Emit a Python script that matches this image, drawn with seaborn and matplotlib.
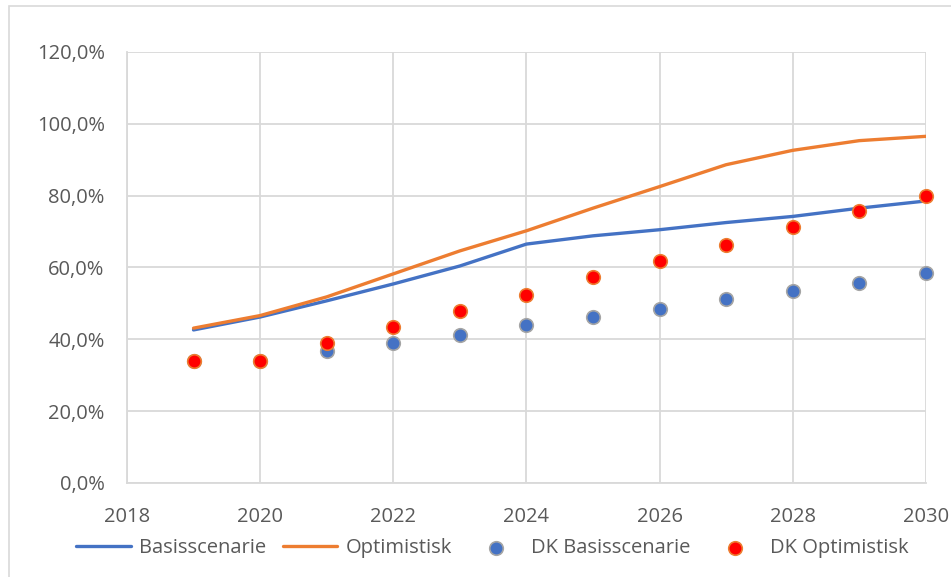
import matplotlib
matplotlib.use("Agg")
import matplotlib.pyplot as plt
import seaborn as sns
import numpy as np
from matplotlib.patches import Rectangle
from matplotlib.ticker import FuncFormatter

years = [2019, 2020, 2021, 2022, 2023, 2024, 2025, 2026, 2027, 2028, 2029, 2030]
basis = [0.426, 0.462, 0.507, 0.554, 0.604, 0.665, 0.688, 0.705, 0.725, 0.742, 0.765, 0.785]
optimistisk = [0.431, 0.466, 0.518, 0.582, 0.646, 0.702, 0.765, 0.825, 0.886, 0.926, 0.953, 0.965]
dk_basis = [0.340, 0.340, 0.366, 0.389, 0.412, 0.439, 0.462, 0.484, 0.512, 0.534, 0.557, 0.584]
dk_opt = [0.340, 0.340, 0.389, 0.434, 0.479, 0.524, 0.573, 0.618, 0.662, 0.712, 0.757, 0.800]
xticks = [2018, 2020, 2022, 2024, 2026, 2028, 2030]
yticks = [0.0, 0.2, 0.4, 0.6, 0.8, 1.0, 1.2]

sns.set_theme(style="white")
plt.rcParams['font.family'] = ['Open Sans', 'DejaVu Sans']

fig = plt.figure(figsize=(9.51, 5.77), dpi=100)
ax = fig.add_axes([0.1335, 0.163, 0.840, 0.747])

blue = "#4472C4"
orange = "#ED7D31"

sns.lineplot(x=years, y=basis, ax=ax, color=blue, linewidth=2.4, label="Basisscenarie", zorder=3)
sns.lineplot(x=years, y=optimistisk, ax=ax, color=orange, linewidth=2.4, label="Optimistisk", zorder=3)
sns.scatterplot(x=years, y=dk_basis, ax=ax, color=blue, edgecolor="#A5A5A5", linewidth=1.2, s=95,
                label="DK Basisscenarie", zorder=4, clip_on=False)
sns.scatterplot(x=years, y=dk_opt, ax=ax, color="#FF0000", edgecolor=orange, linewidth=1.2, s=95,
                label="DK Optimistisk", zorder=5, clip_on=False)

ax.set_xlim(2018, 2030)
ax.set_ylim(0, 1.2)
ax.set_xticks(xticks)
ax.set_yticks(yticks)
ax.yaxis.set_major_formatter(FuncFormatter(lambda v, p: f"{v*100:.1f}%".replace(".", ",")))
ax.grid(True, color="#D9D9D9", linewidth=1.3)
ax.set_axisbelow(True)
for s in ["top", "right"]:
    ax.spines[s].set_visible(False)
for s in ["left", "bottom"]:
    ax.spines[s].set_color("#D9D9D9")
    ax.spines[s].set_linewidth(1.3)
ax.tick_params(axis="both", length=0, labelsize=14.5, colors="#595959")
ax.tick_params(axis="y", pad=16)
ax.tick_params(axis="x", pad=17)
ax.set_xlabel("")
ax.set_ylabel("")

handles, labels = ax.get_legend_handles_labels()
ax.get_legend().remove()
leg = fig.legend(handles, labels, loc="center", bbox_to_anchor=(0.518, 0.05), ncol=4, frameon=False,
                 fontsize=14.5, handlelength=2.7, columnspacing=0.85, handletextpad=0.4)
for t in leg.get_texts():
    t.set_color("#595959")

fig.patches.append(Rectangle((0.009, -0.01), 1.0, 1.0, transform=fig.transFigure, fill=False,
                             edgecolor="#D9D9D9", linewidth=1.2))

fig.savefig("out.png", dpi=100, facecolor="white")
